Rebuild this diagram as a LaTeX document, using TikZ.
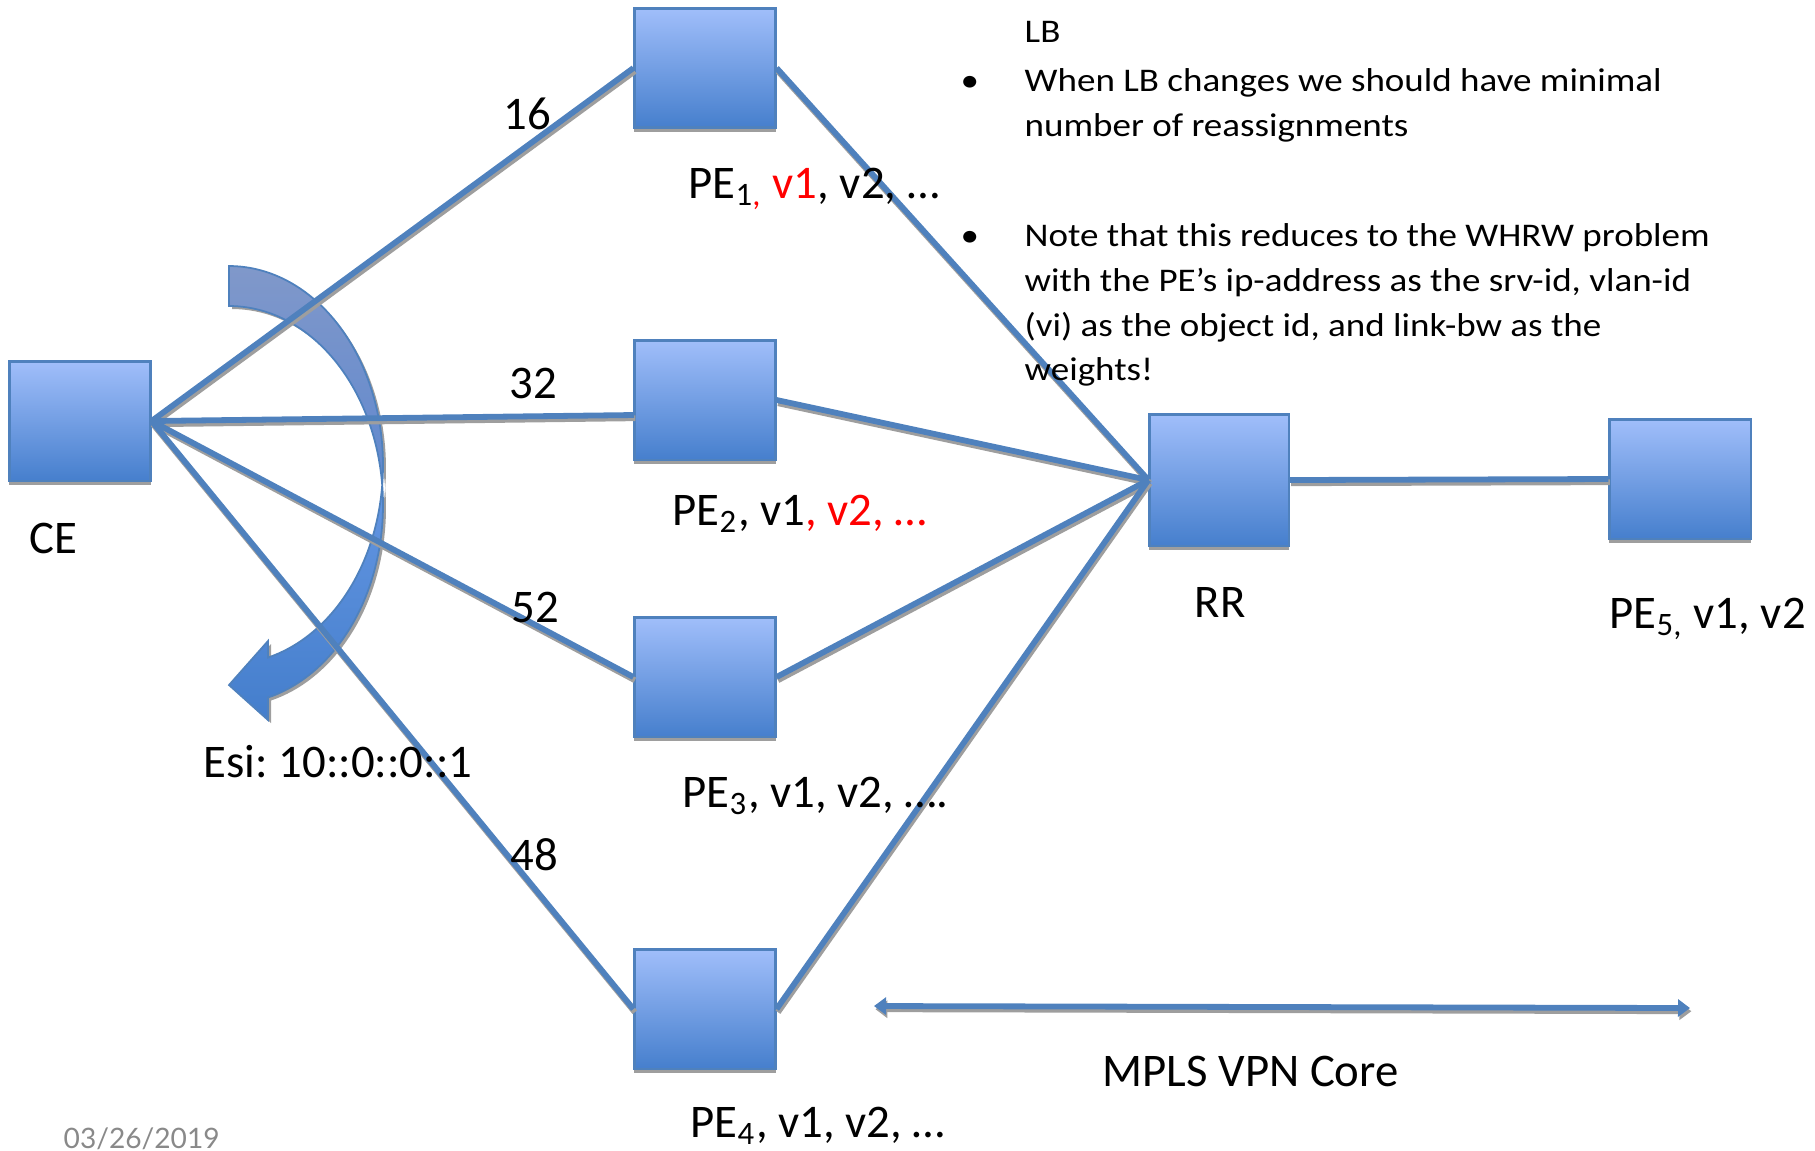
\documentclass[tikz,border=0pt]{standalone}
\usepackage{fontspec}
\setmainfont{Carlito}
\newfontfamily\datefont{Lato}
\newfontfamily\notefont[FakeStretch=1.12]{Carlito}
\usetikzlibrary{arrows.meta,shadings,shadows}
\frenchspacing

\definecolor{linkblue}{RGB}{79,129,189}
\definecolor{boxtop}{RGB}{160,190,250}
\definecolor{boxbottom}{RGB}{70,127,205}
\definecolor{shadowgray}{RGB}{158,158,158}
\definecolor{hotred}{RGB}{255,0,0}
\definecolor{dategray}{RGB}{137,137,137}
\definecolor{backtop}{RGB}{128,152,202}
\definecolor{backbottom}{RGB}{96,136,206}
\definecolor{fronttop}{RGB}{100,150,226}
\definecolor{frontbottom}{RGB}{68,126,204}

\tikzset{
  router/.style={rectangle, draw=linkblue, line width=0.6pt,
    top color=boxtop, bottom color=boxbottom,
    minimum width=1.41cm, minimum height=1.19cm, inner sep=0pt,
    drop shadow={shadow xshift=0cm, shadow yshift=-0.045cm,
      fill=shadowgray, opacity=1}},
  link/.style={draw=linkblue, line width=0.058cm,
    preaction={draw=shadowgray, line width=0.058cm,
      transform canvas={xshift=0.014cm, yshift=-0.032cm}}},
  lbl/.style={inner sep=0pt, font=\fontsize{13.3}{16}\selectfont},
  note/.style={inner sep=0pt, anchor=base west, font=\notefont\fontsize{9.4}{12}\selectfont},
  span/.style={link, >={Triangle[width=0.17cm,length=0.12cm]}, <->}
}

\begin{document}
\begin{tikzpicture}[x=0.01cm,y=-0.01cm]
\useasboundingbox (0,0) rectangle (1815,1150);

% curved load-balancing arrow (two equal ellipses shifted by the band thickness)
\begin{scope}[shift={(3,3)}]
  \fill[shadowgray]
    plot[domain=90:-5.77,samples=40] ({229+154*cos(\x)},{465-199*sin(\x)})
    -- plot[domain=5.77:90,samples=40] ({229+154*cos(\x)},{505-199*sin(\x)})
    -- cycle;
  \fill[shadowgray]
    plot[domain=5.77:-75.33,samples=40] ({229+154*cos(\x)},{505-199*sin(\x)})
    -- (268,720) -- (229,685) -- (268,641)
    -- plot[domain=-75.33:-5.77,samples=40] ({229+154*cos(\x)},{465-199*sin(\x)})
    -- cycle;
\end{scope}
\path[draw=linkblue, line width=0.5pt, top color=backtop, bottom color=backbottom]
  plot[domain=90:-5.77,samples=50] ({229+154*cos(\x)},{465-199*sin(\x)})
  -- plot[domain=5.77:90,samples=50] ({229+154*cos(\x)},{505-199*sin(\x)})
  -- cycle;
\path[draw=linkblue, line width=0.5pt, top color=fronttop, bottom color=frontbottom]
  plot[domain=5.77:-75.33,samples=50] ({229+154*cos(\x)},{505-199*sin(\x)})
  -- (268,720) -- (229,685) -- (268,641)
  -- plot[domain=-75.33:-5.77,samples=50] ({229+154*cos(\x)},{465-199*sin(\x)})
  -- cycle;

% routers
\node[router] (ce)  at (80,421) {};
\node[router] (pe1) at (705,68) {};
\node[router] (pe2) at (705,400) {};
\node[router] (pe3) at (705,677) {};
\node[router] (pe4) at (705,1009) {};
\node[router, minimum width=1.39cm, minimum height=1.31cm] (rr) at (1219,480) {};
\node[router] (pe5) at (1680,479) {};

% links
\coordinate (pe2in) at (634,415);
\draw[link] (ce.east) -- (pe1.west);
\draw[link] (ce.east) -- (pe2in);
\draw[link] (ce.east) -- (pe3.west);
\draw[link] (ce.east) -- (pe4.west);
\draw[link] (pe1.east) -- (rr.west);
\draw[link] (pe2.east) -- (rr.west);
\draw[link] (pe3.east) -- (rr.west);
\draw[link] (pe4.east) -- (rr.west);
\draw[link] (rr.east) -- (pe5.west);

% core span
\coordinate (coreL) at (874,1006);
\coordinate (coreR) at (1690,1008);
\draw[span] (coreL) -- (coreR);

% link weights
\node[lbl, anchor=base] (w16) at (527,129) {16};
\node[lbl, anchor=base] (w32) at (533,398) {32};
\node[lbl, anchor=base] (w52) at (535,622) {52};
\node[lbl, anchor=base] (w48) at (534,870) {48};

% router labels
\node[lbl, anchor=base west] (lce) at (29,553) {CE};
\node[lbl, anchor=base west] (lesi) at (203,777) {Esi: 10::0::0::1};
\node[lbl, anchor=base west] (lpe1) at (688,198)
  {PE\textsubscript{1\textcolor{hotred}{,}} \textcolor{hotred}{v1}, v2, …};
\node[lbl, anchor=base west] (lpe2) at (672,525)
  {PE\textsubscript{2}, v1\textcolor{hotred}{, v2, …}};
\node[lbl, anchor=base west] (lpe3) at (682,807) {PE\textsubscript{3}, v1, v2, ….};
\node[lbl, anchor=base west] (lpe4) at (690,1137) {PE\textsubscript{4}, v1, v2, …};
\node[lbl, anchor=base] (lrr) at (1220,617) {RR};
\node[lbl, anchor=base west] (lpe5) at (1609,628) {PE\textsubscript{5,} v1, v2};
\node[lbl, anchor=base west] (lcore) at (1102,1086) {MPLS VPN Core};

% notes
\node[note] (n0) at (1024,42.7) {LB};
\node[note] (b1) at (960,91.7) {•};
\node[note] (n1) at (1024,91.7) {When LB changes we should have minimal};
\node[note] (n2) at (1024,136.7) {number of reassignments};
\node[note] (b2) at (960,246.7) {•};
\node[note] (n3) at (1024,246.7) {Note that this reduces to the WHRW problem};
\node[note] (n4) at (1024,291.7) {with the PE’s ip-address as the srv-id, vlan-id};
\node[note] (n5) at (1024,336.7) {(vi) as the object id, and link-bw as the};
\node[note] (n6) at (1024,380) {weights!};

% date
\node[inner sep=0pt, anchor=base west, text=dategray, font=\datefont\fontsize{8}{10}\selectfont] (date) at (63,1148) {03/26/2019};
\end{tikzpicture}
\end{document}
